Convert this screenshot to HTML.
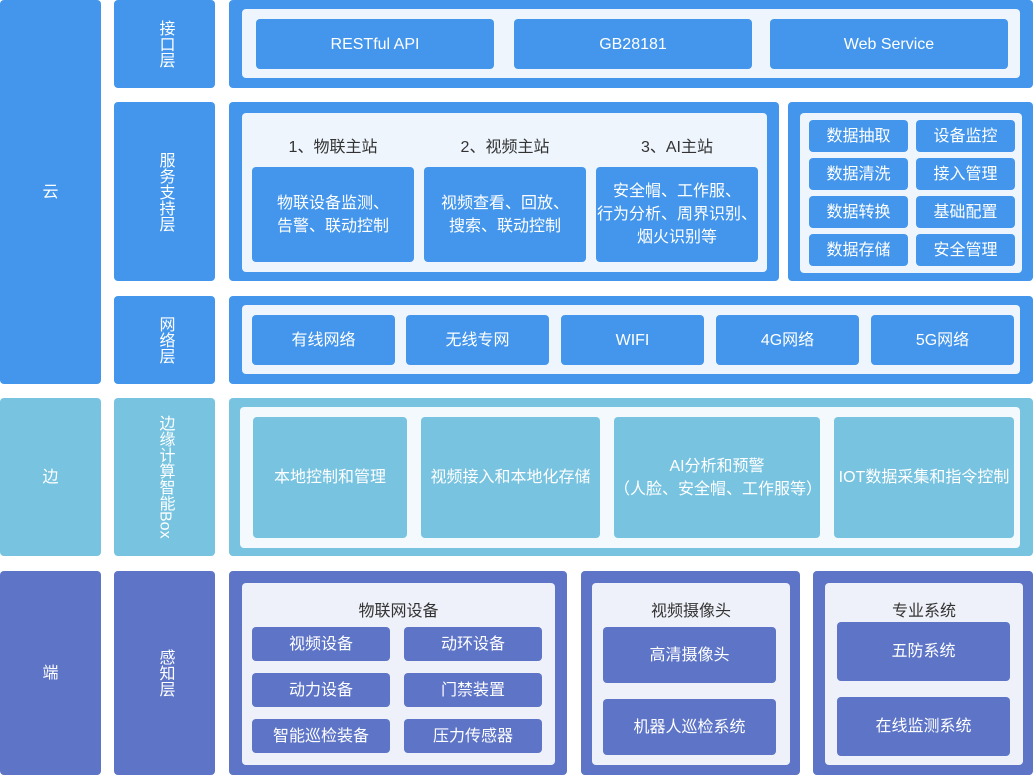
<!DOCTYPE html>
<html><head><meta charset="utf-8"><style>
body{margin:0;width:1033px;height:775px;position:relative;background:#fff;font-family:"Liberation Sans","Noto Sans CJK SC",sans-serif;overflow:hidden}
div{position:absolute;box-sizing:border-box}
.b{background:#4396ec}.c{background:#77c3e0}.p{background:#5d74c7}
.lb{background:#eef5fd}.lc{background:#f3f9fc}.lp{background:#eef1f9}
.r{border-radius:4px}
.t{display:flex;align-items:center;justify-content:center;text-align:center;color:#fff;font-size:16px;line-height:23px}
.v{writing-mode:vertical-rl;line-height:16px}
.h{color:#333;font-size:16px;text-align:center}
</style></head><body>
<div class="b r t" style="left:0;top:0;width:101px;height:384px">云</div>
<div class="c r t" style="left:0;top:398px;width:101px;height:158px">边</div>
<div class="p r t" style="left:0;top:571px;width:101px;height:204px">端</div>

<div class="b r t" style="left:114px;top:0;width:101px;height:88px"><span class="v">接口层</span></div>
<div class="b r t" style="left:114px;top:102px;width:101px;height:179px"><span class="v">服务支持层</span></div>
<div class="b r t" style="left:114px;top:296px;width:101px;height:88px"><span class="v">网络层</span></div>
<div class="c r t" style="left:114px;top:398px;width:101px;height:158px"><span class="v">边缘计算智能Box</span></div>
<div class="p r t" style="left:114px;top:571px;width:101px;height:204px"><span class="v">感知层</span></div>

<!-- row1 -->
<div class="b r" style="left:229px;top:0;width:804px;height:88px"></div>
<div class="lb r" style="left:242px;top:9px;width:778px;height:69px"></div>
<div class="b r t" style="left:256px;top:19px;width:238px;height:50px">RESTful API</div>
<div class="b r t" style="left:514px;top:19px;width:238px;height:50px">GB28181</div>
<div class="b r t" style="left:770px;top:19px;width:238px;height:50px">Web Service</div>

<!-- row2 -->
<div class="b r" style="left:229px;top:102px;width:550px;height:179px"></div>
<div class="lb r" style="left:242px;top:113px;width:525px;height:159px"></div>
<div class="h" style="left:252px;top:133px;width:162px">1、物联主站</div>
<div class="h" style="left:424px;top:133px;width:162px">2、视频主站</div>
<div class="h" style="left:596px;top:133px;width:162px">3、AI主站</div>
<div class="b r t" style="left:252px;top:167px;width:162px;height:95px">物联设备监测、<br>告警、联动控制</div>
<div class="b r t" style="left:424px;top:167px;width:162px;height:95px">视频查看、回放、<br>搜索、联动控制</div>
<div class="b r t" style="left:596px;top:167px;width:162px;height:95px">安全帽、工作服、<br>行为分析、周界识别、<br>烟火识别等</div>
<div class="b r" style="left:788px;top:102px;width:245px;height:179px"></div>
<div class="lb r" style="left:800px;top:113px;width:222px;height:160px"></div>
<div class="b r t" style="left:809px;top:120px;width:99px;height:32px">数据抽取</div>
<div class="b r t" style="left:916px;top:120px;width:99px;height:32px">设备监控</div>
<div class="b r t" style="left:809px;top:158px;width:99px;height:32px">数据清洗</div>
<div class="b r t" style="left:916px;top:158px;width:99px;height:32px">接入管理</div>
<div class="b r t" style="left:809px;top:196px;width:99px;height:32px">数据转换</div>
<div class="b r t" style="left:916px;top:196px;width:99px;height:32px">基础配置</div>
<div class="b r t" style="left:809px;top:234px;width:99px;height:32px">数据存储</div>
<div class="b r t" style="left:916px;top:234px;width:99px;height:32px">安全管理</div>

<!-- row3 -->
<div class="b r" style="left:229px;top:296px;width:804px;height:88px"></div>
<div class="lb r" style="left:242px;top:305px;width:778px;height:69px"></div>
<div class="b r t" style="left:252px;top:315px;width:143px;height:50px">有线网络</div>
<div class="b r t" style="left:406px;top:315px;width:143px;height:50px">无线专网</div>
<div class="b r t" style="left:561px;top:315px;width:143px;height:50px">WIFI</div>
<div class="b r t" style="left:716px;top:315px;width:143px;height:50px">4G网络</div>
<div class="b r t" style="left:871px;top:315px;width:143px;height:50px">5G网络</div>

<!-- row4 -->
<div class="c r" style="left:229px;top:398px;width:804px;height:158px"></div>
<div class="lc r" style="left:240px;top:407px;width:780px;height:141px"></div>
<div class="c r t" style="left:253px;top:417px;width:154px;height:121px">本地控制和管理</div>
<div class="c r t" style="left:421px;top:417px;width:179px;height:121px">视频接入和本地化存储</div>
<div class="c r t" style="left:614px;top:417px;width:206px;height:121px">AI分析和预警<br>（人脸、安全帽、工作服等）</div>
<div class="c r t" style="left:834px;top:417px;width:180px;height:121px">IOT数据采集和指令控制</div>

<!-- row5 -->
<div class="p r" style="left:229px;top:571px;width:338px;height:204px"></div>
<div class="lp r" style="left:242px;top:583px;width:313px;height:182px"></div>
<div class="h" style="left:242px;top:597px;width:313px">物联网设备</div>
<div class="p r t" style="left:252px;top:627px;width:138px;height:34px">视频设备</div>
<div class="p r t" style="left:404px;top:627px;width:138px;height:34px">动环设备</div>
<div class="p r t" style="left:252px;top:673px;width:138px;height:34px">动力设备</div>
<div class="p r t" style="left:404px;top:673px;width:138px;height:34px">门禁装置</div>
<div class="p r t" style="left:252px;top:719px;width:138px;height:34px">智能巡检装备</div>
<div class="p r t" style="left:404px;top:719px;width:138px;height:34px">压力传感器</div>

<div class="p r" style="left:581px;top:571px;width:219px;height:204px"></div>
<div class="lp r" style="left:592px;top:583px;width:198px;height:182px"></div>
<div class="h" style="left:592px;top:597px;width:198px">视频摄像头</div>
<div class="p r t" style="left:603px;top:627px;width:173px;height:56px">高清摄像头</div>
<div class="p r t" style="left:603px;top:699px;width:173px;height:56px">机器人巡检系统</div>

<div class="p r" style="left:813px;top:571px;width:220px;height:204px"></div>
<div class="lp r" style="left:825px;top:583px;width:198px;height:182px"></div>
<div class="h" style="left:825px;top:597px;width:198px">专业系统</div>
<div class="p r t" style="left:837px;top:622px;width:173px;height:59px">五防系统</div>
<div class="p r t" style="left:837px;top:697px;width:173px;height:59px">在线监测系统</div>
</body></html>
